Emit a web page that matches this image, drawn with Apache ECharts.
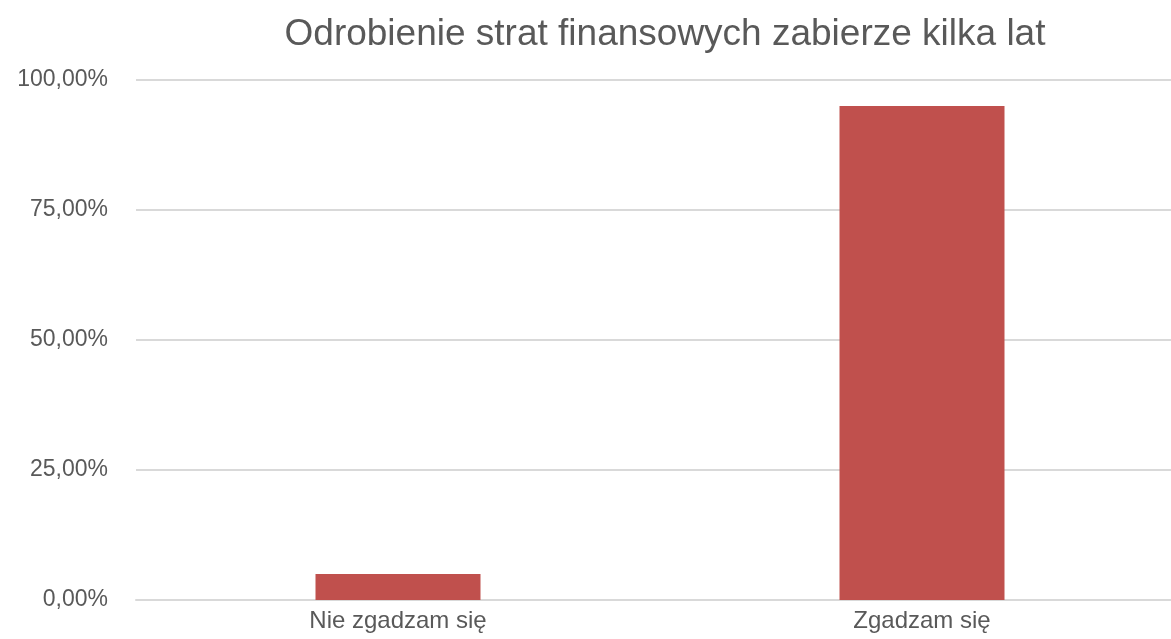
<!DOCTYPE html>
<html>
<head>
<meta charset="utf-8">
<script src="https://cdn.jsdelivr.net/npm/echarts@6/dist/echarts.min.js"></script>
<style>
  html, body { margin: 0; padding: 0; background: #fff; }
  #chart { width: 1171px; height: 639px; }
</style>
</head>
<body>
<div id="chart"></div>
<script>
  var titleText = 'Odrobienie strat finansowych zabierze kilka lat';
  var categories = ['Nie zgadzam się', 'Zgadzam się'];
  var values = [5, 95];
  var yTicks = { min: 0, max: 100, interval: 25 };

  var chart = echarts.init(document.getElementById('chart'));

  var option = {
    backgroundColor: '#fff',
    animation: false,
    title: {
      text: titleText,
      left: 660,
      top: 11,
      textAlign: 'center',
      textStyle: {
        fontFamily: 'Liberation Sans, Arial, sans-serif',
        fontSize: 37,
        fontWeight: 'normal',
        color: '#595959'
      }
    },
    grid: {
      left: 136,
      width: 1048,
      top: 80,
      bottom: 39,
      containLabel: false,
      outerBoundsMode: 'none'
    },
    xAxis: {
      type: 'category',
      data: categories,
      axisTick: { show: false },
      axisLine: { lineStyle: { color: '#d9d9d9', width: 2 } },
      axisLabel: {
        margin: 9,
        fontFamily: 'Liberation Sans, Arial, sans-serif',
        fontSize: 24,
        color: '#595959'
      }
    },
    yAxis: {
      type: 'value',
      min: yTicks.min,
      max: yTicks.max,
      interval: yTicks.interval,
      axisLine: { show: false },
      axisTick: { show: false },
      splitLine: { lineStyle: { color: '#d9d9d9', width: 2 } },
      axisLabel: {
        margin: 28,
        fontFamily: 'Liberation Sans, Arial, sans-serif',
        fontSize: 23,
        color: '#595959',
        formatter: function (v) {
          return v.toFixed(2).replace('.', ',') + '%';
        }
      }
    },
    series: [{
      type: 'bar',
      data: values,
      barWidth: 165,
      itemStyle: { color: '#c0504d' }
    }]
  };

  chart.setOption(option);
</script>
</body>
</html>
